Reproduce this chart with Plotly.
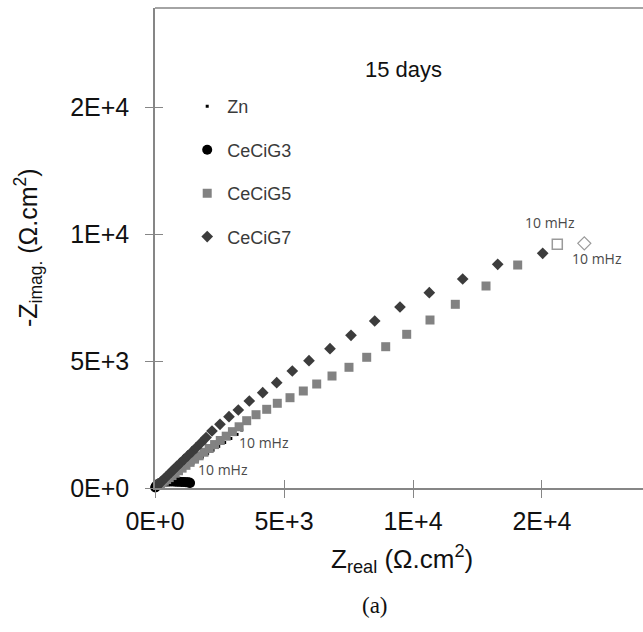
import plotly.graph_objects as go

# Nyquist data after 15 days of immersion, Z in ohm.cm2
zn_re = [40, 90, 150, 220, 300, 390, 490, 600, 720, 850, 990, 1140, 1300, 1470,
         1650, 1840, 2040, 2250, 2470, 2700, 2940, 3180, 3360]
zn_im = [30, 65, 105, 150, 200, 260, 325, 400, 480, 565, 660, 760, 865, 975,
         1095, 1220, 1350, 1490, 1640, 1790, 1950, 2110, 2283]

g3_re = [10, 25, 45, 70, 100, 140, 190, 250, 320, 400, 480, 560, 640, 720, 800,
         880, 960, 1040, 1120, 1200, 1270, 1330, 1360]
g3_im = [20, 45, 75, 105, 135, 165, 192, 215, 233, 245, 252, 255, 255, 253, 250,
         246, 242, 238, 233, 228, 222, 212, 200]

g5_re = [30, 60, 100, 150, 210, 280, 360, 450, 550, 660, 780, 910, 1050, 1200,
         1360, 1530, 1710, 1900, 2100, 2310, 2530, 2760, 3000, 3260, 3554, 3915,
         4330, 4740, 5233, 5748, 6268, 6861, 7519, 8206, 8942, 9756, 10659, 11640,
         12830, 14058]
g5_im = [25, 48, 78, 115, 160, 212, 270, 336, 410, 490, 580, 678, 782, 893,
         1010, 1135, 1268, 1408, 1555, 1710, 1870, 2040, 2218, 2410, 2650, 2886,
         3098, 3335, 3555, 3819, 4094, 4409, 4752, 5146, 5563, 6051, 6614, 7232,
         7953, 8779]

g7_re = [25, 50, 85, 125, 170, 220, 280, 350, 430, 520, 620, 730, 850, 980,
         1120, 1270, 1430, 1600, 1780, 1980, 2209, 2519, 2868, 3229, 3655, 4175,
         4717, 5322, 5969, 6783, 7597, 8516, 9496, 10632, 11926, 13283, 15027]
g7_im = [24, 50, 86, 127, 173, 224, 284, 354, 434, 524, 624, 734, 852, 980,
         1118, 1265, 1420, 1590, 1775, 1985, 2244, 2508, 2807, 3071, 3425, 3752,
         4146, 4606, 5012, 5484, 6012, 6575, 7126, 7689, 8228, 8807, 9240]

# lowest-frequency (10 mHz) points drawn as open symbols
g5_low_re, g5_low_im = [15593], [9594]
g7_low_re, g7_low_im = [16640], [9634]

tick_vals = [0, 5000, 10000, 15000]
tick_text = ["0E+0", "5E+3", "1E+4", "2E+4"]
low_freq_label = "10 mHz"

AXIS_GREY = "#868686"
SANS = "Liberation Sans, Arial"
W, H = 643, 632
M_L, M_R, M_T, M_B = 155, 0, 8, 144
X_MAX, Y_MAX = 18915, 18898

fig = go.Figure()

fig.add_trace(go.Scatter(x=zn_re, y=zn_im, mode="markers", name="Zn",
                         marker=dict(symbol="square", size=3, color="#000000"),
                         legendgroup="zn"))
fig.add_trace(go.Scatter(x=g3_re, y=g3_im, mode="markers", name="CeCiG3",
                         marker=dict(symbol="circle", size=10, color="#000000"),
                         cliponaxis=False, legendgroup="g3"))
fig.add_trace(go.Scatter(x=g5_re, y=g5_im, mode="markers", name="CeCiG5",
                         marker=dict(symbol="square", size=9, color="#828282"),
                         legendgroup="g5"))
fig.add_trace(go.Scatter(x=g7_re, y=g7_im, mode="markers", name="CeCiG7",
                         marker=dict(symbol="diamond", size=9, color="#3c3c3c"),
                         legendgroup="g7"))
fig.add_trace(go.Scatter(x=g5_low_re, y=g5_low_im, mode="markers", showlegend=False,
                         marker=dict(symbol="square-open", size=10,
                                     color="#9a9a9a", line=dict(width=1.5))))
fig.add_trace(go.Scatter(x=g7_low_re, y=g7_low_im, mode="markers", showlegend=False,
                         marker=dict(symbol="diamond-open", size=10,
                                     color="#9a9a9a", line=dict(width=1.2))))
# empty trace carrying the overlay axes used for inward tick marks
fig.add_trace(go.Scatter(x=[], y=[], xaxis="x2", yaxis="y2", showlegend=False,
                         hoverinfo="skip"))

# frequency labels anchored to the last point of each curve
label_font = dict(family="Open Sans, Lato, sans-serif", size=14, color="#4a4a4a")
for xs, ys, dx, dy in [
    (zn_re, zn_im, 22, -12),
    (g3_re, g3_im, 33, 13),
    (g5_low_re, g5_low_im, -7, 22),
    (g7_low_re, g7_low_im, 13, -15),
]:
    fig.add_annotation(x=xs[-1], y=ys[-1], text=low_freq_label, showarrow=False,
                       xshift=dx, yshift=dy, font=label_font)

title_font = dict(family=SANS, size=25, color="#111111")
fig.add_annotation(x=0.5055, y=-0.148, xref="paper", yref="paper",
                   text="Z<sub>real</sub> (Ω.cm<sup>2</sup>)", showarrow=False,
                   xanchor="center", yanchor="middle",
                   font=dict(family=SANS, size=26, color="#111111"))
fig.add_annotation(x=-0.260, y=0.5, xref="paper", yref="paper", textangle=-90,
                   text="-Z<sub>imag.</sub> (Ω.cm<sup>2</sup>)", showarrow=False,
                   xanchor="center", yanchor="middle", font=title_font)
fig.add_annotation(x=0.509, y=0.902, xref="paper", yref="paper", text="15 days",
                   showarrow=False, font=dict(family=SANS, size=22, color="#111111"))
fig.add_annotation(x=0.451, y=-0.275, xref="paper", yref="paper", text="(a)",
                   showarrow=False,
                   font=dict(family="Liberation Serif, Times New Roman", size=23,
                             color="#111111"))

# top border of the plot area
fig.add_shape(type="line", xref="paper", yref="paper", x0=0, x1=1, y0=1, y1=1,
              line=dict(color=AXIS_GREY, width=1.5))

axis_common = dict(
    tickmode="array", tickvals=tick_vals, ticktext=tick_text,
    showgrid=False, zeroline=False, showline=True, linecolor=AXIS_GREY,
    linewidth=1.5, ticks="outside", ticklen=8, tickwidth=1.2,
    tickcolor=AXIS_GREY,
    tickfont=dict(family=SANS, size=25, color="#111111"),
)

fig.update_layout(
    width=W, height=H,
    margin=dict(l=M_L, r=M_R, t=M_T, b=M_B, pad=0),
    paper_bgcolor="white", plot_bgcolor="white",
    xaxis=dict(range=[0, X_MAX], ticklabelstandoff=2, **axis_common),
    yaxis=dict(range=[0, Y_MAX], ticklabelstandoff=11, **axis_common),
    xaxis2=dict(overlaying="x", matches="x", range=[0, X_MAX], tickmode="array",
                tickvals=tick_vals, ticks="inside", ticklen=8, tickwidth=1.2,
                tickcolor=AXIS_GREY, showticklabels=False, showgrid=False,
                zeroline=False, showline=False, side="bottom"),
    yaxis2=dict(overlaying="y", matches="y", range=[0, Y_MAX], tickmode="array",
                tickvals=tick_vals, ticks="inside", ticklen=8, tickwidth=1.2,
                tickcolor=AXIS_GREY, showticklabels=False, showgrid=False,
                zeroline=False, showline=False, side="left"),
    legend=dict(x=0.066, y=0.833, xanchor="left", yanchor="top",
                bgcolor="rgba(0,0,0,0)", tracegroupgap=17,
                traceorder="grouped",
                font=dict(family=SANS, size=18, color="#3a3a3a")),
    showlegend=True,
)

fig.write_html("out.html")
